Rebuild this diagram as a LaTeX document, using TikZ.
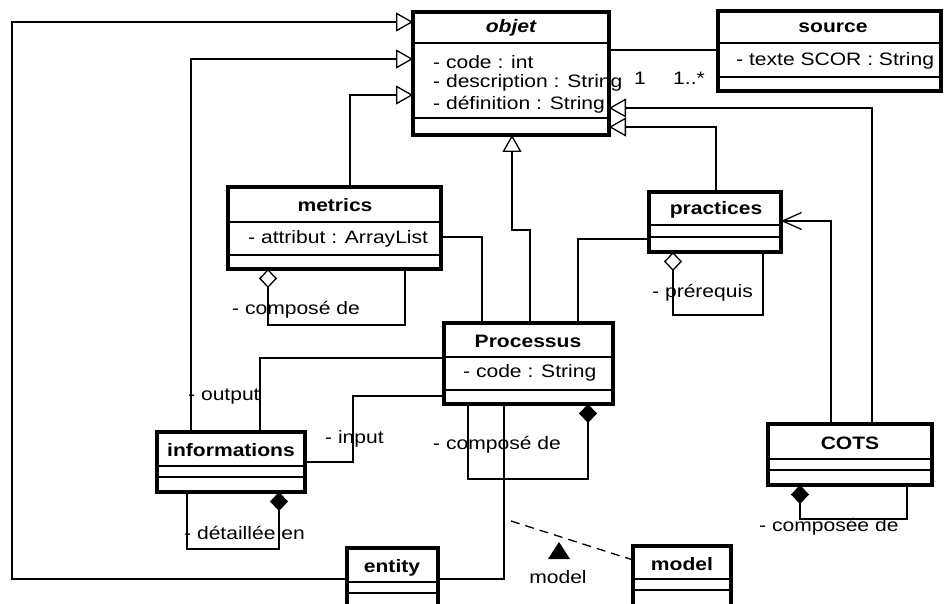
\documentclass[tikz,border=0pt]{standalone}
\usepackage{fontspec}
\setmainfont[FakeStretch=1.17]{Liberation Sans}
\usetikzlibrary{arrows.meta}
\tikzset{
  cls/.style={draw, line width=3.2pt, inner sep=0pt, outer sep=0pt, anchor=north west},
  sepline/.style={line width=1.3pt},
  conn/.style={line width=1.3pt},
  gen/.style={conn, -{Triangle[open, length=17pt, width=19pt]}},
  aggr/.style={conn, {Diamond[open, length=19pt, width=18pt]}-},
  comp/.style={conn, {Diamond[length=19pt, width=18pt]}-},
  navi/.style={conn, -{Straight Barb[length=19pt, width=17pt]}},
  title/.style={inner sep=0pt, font=\fontsize{18}{21}\selectfont\bfseries},
  attr/.style={inner sep=0pt, anchor=west, font=\fontsize{18}{21}\selectfont},
  lbl/.style={inner sep=0pt, anchor=west, font=\fontsize{18}{21}\selectfont},
}
\begin{document}
\begin{tikzpicture}[x=1pt,y=-1pt]
\useasboundingbox (0,0) rectangle (946,604);
\clip (0,0) rectangle (946,604);
\fill[white] (0,0) rectangle (946,604);

% ---------- classes ----------
% objet
\node[cls, minimum width=196pt, minimum height=123pt] (objet) at (413,12) {};
\draw[sepline] (objet.west |- 0,43) -- (objet.east |- 0,43);
\draw[sepline] (objet.west |- 0,118) -- (objet.east |- 0,118);
\node[title, font=\fontsize{18}{21}\selectfont\bfseries\itshape] (objetT) at (511,28) {objet};
\node[attr] (objetA1) at (433,62) {- code : int};
\node[attr] (objetA2) at (433,83) {- description : String};
\node[attr] (objetA3) at (433,105) {- définition : String};

% source
\node[cls, minimum width=223pt, minimum height=80pt] (source) at (718,11) {};
\draw[sepline] (source.west |- 0,43) -- (source.east |- 0,43);
\draw[sepline] (source.west |- 0,77) -- (source.east |- 0,77);
\node[title] (sourceT) at (833,28) {source};
\node[attr] (sourceA1) at (736,61) {- texte SCOR : String};

% metrics
\node[cls, minimum width=213pt, minimum height=82pt] (metrics) at (228,187) {};
\draw[sepline] (metrics.west |- 0,222) -- (metrics.east |- 0,222);
\draw[sepline] (metrics.west |- 0,255) -- (metrics.east |- 0,255);
\node[title] (metricsT) at (335,205) {metrics};
\node[attr] (metricsA1) at (248,239) {- attribut : ArrayList};

% practices
\node[cls, minimum width=132pt, minimum height=60pt] (practices) at (649,192) {};
\draw[sepline] (practices.west |- 0,225) -- (practices.east |- 0,225);
\draw[sepline] (practices.west |- 0,237) -- (practices.east |- 0,237);
\node[title] (practicesT) at (716,210) {practices};

% Processus
\node[cls, minimum width=169pt, minimum height=81pt] (processus) at (444,323) {};
\draw[sepline] (processus.west |- 0,357) -- (processus.east |- 0,357);
\draw[sepline] (processus.west |- 0,390) -- (processus.east |- 0,390);
\node[title] (processusT) at (528,341) {Processus};
\node[attr] (processusA1) at (463,373) {- code : String};

% informations
\node[cls, minimum width=148pt, minimum height=60pt] (informations) at (157,432) {};
\draw[sepline] (informations.west |- 0,466) -- (informations.east |- 0,466);
\draw[sepline] (informations.west |- 0,477) -- (informations.east |- 0,477);
\node[title] (informationsT) at (231,450) {informations};

% COTS
\node[cls, minimum width=164pt, minimum height=61pt] (cots) at (768,424) {};
\draw[sepline] (cots.west |- 0,459) -- (cots.east |- 0,459);
\draw[sepline] (cots.west |- 0,470) -- (cots.east |- 0,470);
\node[title] (cotsT) at (850,443) {COTS};

% entity
\node[cls, minimum width=91pt, minimum height=80pt] (entity) at (347,548) {};
\draw[sepline] (entity.west |- 0,582) -- (entity.east |- 0,582);
\draw[sepline] (entity.west |- 0,593) -- (entity.east |- 0,593);
\node[title] (entityT) at (392,568) {entity};

% model
\node[cls, minimum width=98pt, minimum height=80pt] (model) at (633,546) {};
\draw[sepline] (model.west |- 0,579) -- (model.east |- 0,579);
\draw[sepline] (model.west |- 0,590) -- (model.east |- 0,590);
\node[title] (modelT) at (682,564) {model};

% ---------- generalizations ----------
\draw[gen] (entity.west |- 0,579) -- (12,579) -- (12,22) -- (objet.west |- 0,22);
\draw[gen] (informations.north -| 191,0) -- (191,59) -- (objet.west |- 0,59);
\draw[gen] (metrics.north -| 350,0) -- (350,95) -- (objet.west |- 0,95);
\draw[gen] (processus.north -| 530,0) -- (530,230) -- (512,230) -- (objet.south -| 512,0);
\draw[gen] (practices.north -| 716,0) -- (716,127) -- (objet.east |- 0,127);
\draw[gen] (cots.north -| 872,0) -- (872,108) -- (objet.east |- 0,108);

% ---------- associations ----------
\draw[conn] (objet.east |- 0,50) -- (source.west |- 0,50);
\node[lbl] (m1) at (634,78) {1};
\node[lbl] (m2) at (673,78) {1..*};

\draw[conn] (metrics.east |- 0,237) -- (482,237) -- (processus.north -| 482,0);
\draw[conn] (processus.north -| 578,0) -- (578,239) -- (practices.west |- 0,239);
\draw[navi] (cots.north -| 831,0) -- (831,221) -- (practices.east |- 0,221);

\draw[conn] (processus.west |- 0,358) -- (260,358) -- (informations.north -| 260,0);
\node[lbl] (outputL) at (188,397) {- output};
\draw[conn] (processus.west |- 0,396) -- (353,396) -- (353,462) -- (informations.east |- 0,462);
\node[lbl] (inputL) at (325,439) {- input};

\draw[conn] (entity.east |- 0,579) -- (504,579) -- (processus.south -| 504,0);

% ---------- self aggregations / compositions ----------
\draw[aggr] (metrics.south -| 268,0) -- (268,325) -- (405,325) -- (metrics.south -| 405,0);
\node[lbl] (metricsL) at (232,310) {- composé de};

\draw[aggr] (practices.south -| 673,0) -- (673,315) -- (763,315) -- (practices.south -| 763,0);
\node[lbl] (practicesL) at (652,293) {- prérequis};

\draw[comp] (informations.south -| 279,0) -- (279,549) -- (187,549) -- (informations.south -| 187,0);
\node[lbl] (informationsL) at (184,533) {- détaillée en};

\draw[comp] (processus.south -| 588,0) -- (588,479) -- (468,479) -- (processus.south -| 468,0);
\node[lbl] (processusL) at (433,445) {- composé de};

\draw[comp] (cots.south -| 800,0) -- (800,519) -- (907,519) -- (cots.south -| 907,0);
\node[lbl] (cotsL) at (759,527) {- composée de};

% ---------- association class ----------
\coordinate (assocpt) at (511,521);
\draw[conn, dash pattern=on 9pt off 6pt] (assocpt) -- (model.north west |- 0,560);
\fill (548,559) -- (559,542) -- (570,559) -- cycle;
\node[inner sep=0pt, font=\fontsize{18}{21}\selectfont] (modelL) at (558,577) {model};
\end{tikzpicture}
\end{document}
